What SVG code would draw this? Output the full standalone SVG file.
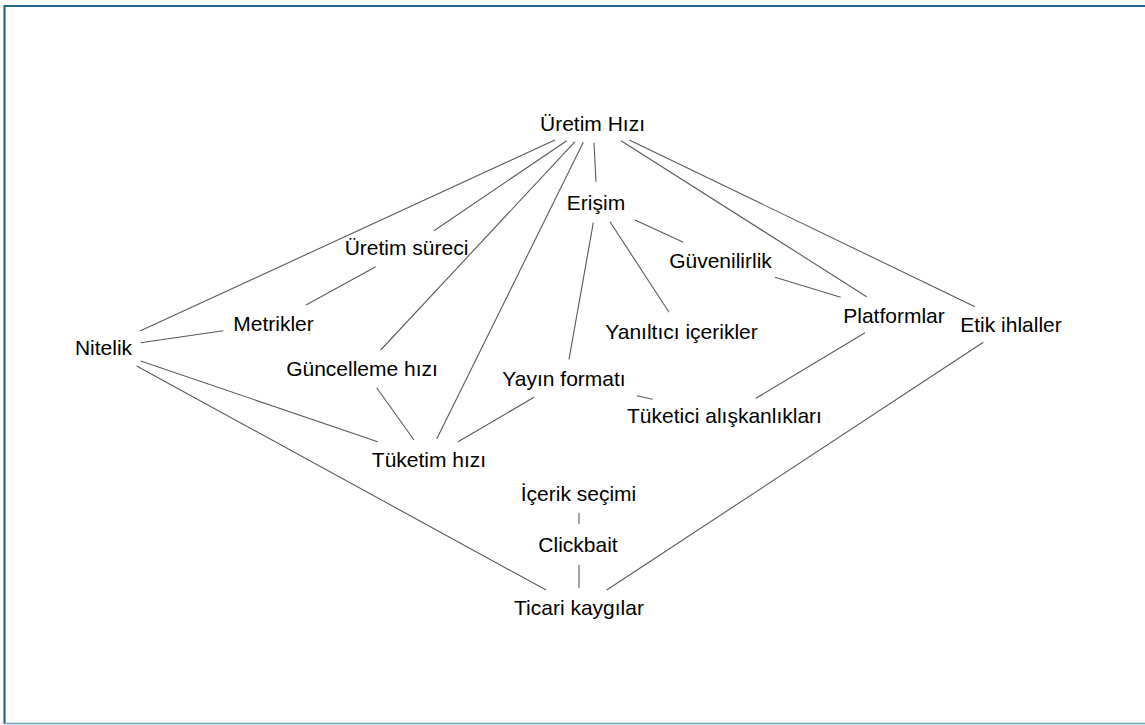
<svg xmlns="http://www.w3.org/2000/svg" width="1145" height="725" viewBox="0 0 1145 725">
<style>
.lbl{font-family:"Liberation Sans",Arial,sans-serif;font-size:21px;fill:#000;text-anchor:middle}
.edge{stroke:#5a5a5a;stroke-width:1.1;fill:none}
</style>
<rect x="0" y="0" width="1145" height="725" fill="#ffffff"/>
<g id="frame">
<line x1="4" y1="6" x2="1145" y2="6" stroke="#23698a" stroke-width="2.2"/>
<line x1="4.5" y1="5" x2="4.5" y2="724" stroke="#23698a" stroke-width="2.2"/>
<line x1="4" y1="723.5" x2="1145" y2="723.5" stroke="#6fa3b8" stroke-width="1.5"/>
</g>
<g id="connectors">
<line class="edge" x1="555" y1="140" x2="140" y2="331"/>
<line class="edge" x1="566.7" y1="140.7" x2="434" y2="230.7"/>
<line class="edge" x1="575" y1="141.7" x2="380.7" y2="350"/>
<line class="edge" x1="583.3" y1="142.3" x2="436.7" y2="439"/>
<line class="edge" x1="594" y1="142.7" x2="596" y2="181.7"/>
<line class="edge" x1="621" y1="140.7" x2="866.7" y2="296.7"/>
<line class="edge" x1="629.3" y1="140" x2="975" y2="306.7"/>
<line class="edge" x1="593.3" y1="222.7" x2="569" y2="359.3"/>
<line class="edge" x1="610" y1="221.7" x2="669" y2="312.3"/>
<line class="edge" x1="635" y1="220" x2="683.3" y2="242.3"/>
<line class="edge" x1="775" y1="277.3" x2="840.7" y2="297.3"/>
<line class="edge" x1="375.7" y1="266.7" x2="306" y2="305"/>
<line class="edge" x1="140.7" y1="342.7" x2="223.3" y2="330.7"/>
<line class="edge" x1="140.7" y1="361" x2="377.7" y2="441.7"/>
<line class="edge" x1="136.7" y1="366" x2="546" y2="590"/>
<line class="edge" x1="376.7" y1="387.7" x2="414" y2="440"/>
<line class="edge" x1="534" y1="397.3" x2="458" y2="441.7"/>
<line class="edge" x1="636.7" y1="395.7" x2="652.7" y2="399.3"/>
<line class="edge" x1="865" y1="332.7" x2="756" y2="398.3"/>
<line class="edge" x1="983.3" y1="342.3" x2="606.7" y2="590"/>
<line class="edge" x1="579" y1="513" x2="579" y2="524"/>
<line class="edge" x1="579" y1="565" x2="579" y2="588"/>
</g>
<g id="n-uretim-hizi"><text class="lbl" x="592.5" y="131">Üretim Hızı</text></g>
<g id="n-erisim"><text class="lbl" x="596" y="210">Erişim</text></g>
<g id="n-uretim-sureci"><text class="lbl" x="406.5" y="255">Üretim süreci</text></g>
<g id="n-metrikler"><text class="lbl" x="273.5" y="331">Metrikler</text></g>
<g id="n-nitelik"><text class="lbl" x="103.5" y="355">Nitelik</text></g>
<g id="n-guncelleme"><text class="lbl" x="362" y="376">Güncelleme hızı</text></g>
<g id="n-tuketim-hizi"><text class="lbl" x="429" y="467">Tüketim hızı</text></g>
<g id="n-yayin-formati"><text class="lbl" x="564" y="386">Yayın formatı</text></g>
<g id="n-yaniltici"><text class="lbl" x="681.5" y="339">Yanıltıcı içerikler</text></g>
<g id="n-tuketici"><text class="lbl" x="724.5" y="423">Tüketici alışkanlıkları</text></g>
<g id="n-platformlar"><text class="lbl" x="894" y="323">Platformlar</text></g>
<g id="n-etik"><text class="lbl" x="1011" y="332">Etik ihlaller</text></g>
<g id="n-guvenilirlik"><text class="lbl" x="720.5" y="268">Güvenilirlik</text></g>
<g id="n-icerik-secimi"><text class="lbl" x="578.5" y="501">İçerik seçimi</text></g>
<g id="n-clickbait"><text class="lbl" x="578" y="552">Clickbait</text></g>
<g id="n-ticari"><text class="lbl" x="579" y="615">Ticari kaygılar</text></g>
</svg>
